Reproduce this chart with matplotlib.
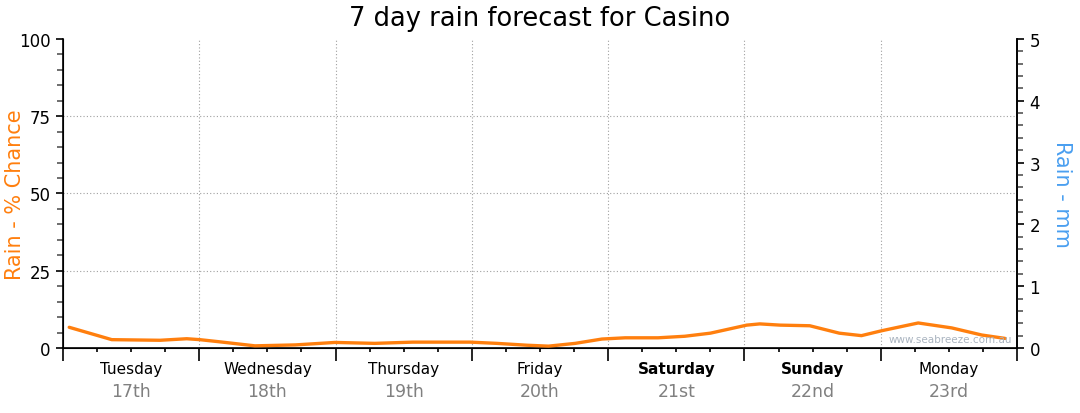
"""7 day rain forecast for Casino - recreated with matplotlib."""

import numpy as np
import matplotlib.pyplot as plt
from matplotlib.ticker import MultipleLocator
from matplotlib.transforms import blended_transform_factory


# hours since Tuesday 00:00 and rain chance (%)
HOURS = [1.1, 8.6, 17.1, 21.8, 24.1, 27.6, 33.8, 40.9, 47.9, 54.9, 61.6,
         71.7, 76.4, 81.7, 85.5, 90.2, 94.9, 99.0, 104.8, 109.5, 114.0,
         120.4, 122.7, 126.3, 131.5, 136.7, 140.6, 144.2, 150.6, 156.5,
         161.8, 165.9]
CHANCE = [6.7, 2.7, 2.5, 3.0, 2.7, 2.0, 0.7, 1.0, 1.8, 1.5, 1.9,
          1.9, 1.5, 0.9, 0.6, 1.5, 2.9, 3.3, 3.3, 3.8, 4.8,
          7.4, 7.8, 7.4, 7.2, 4.8, 4.0, 5.6, 8.1, 6.5,
          4.2, 3.1]

DAYS = ["Tuesday", "Wednesday", "Thursday", "Friday", "Saturday", "Sunday", "Monday"]
DATES = ["17th", "18th", "19th", "20th", "21st", "22nd", "23rd"]
WEEKEND = ["Saturday", "Sunday"]

ORANGE = "#ff7f0e"
BLUE = "#4a9ff0"

plt.rcParams["font.family"] = ["DejaVu Sans"]

fig = plt.figure(figsize=(10.8, 4.14), dpi=100)
ax = fig.add_axes([0.0583, 0.157, 0.8834, 0.7465])

ax.plot(HOURS, CHANCE, color=ORANGE, lw=2.4, solid_capstyle="round", zorder=3)

ax.set_xlim(0, 168)
ax.set_ylim(0, 100)

# grid: dotted, interior only
for y in (25, 50, 75):
    ax.axhline(y, color="#a0a0a0", lw=0.8, ls=(0, (1, 2)), zorder=1)
for d in range(1, 7):
    ax.axvline(d * 24, color="#a0a0a0", lw=0.8, ls=(0, (1, 2)), zorder=1)

ax.spines["top"].set_visible(False)
for s in ("left", "right", "bottom"):
    ax.spines[s].set_linewidth(1.2)

ax.set_yticks([0, 25, 50, 75, 100])
ax.yaxis.set_minor_locator(MultipleLocator(5))
ax.tick_params(axis="y", which="major", length=5, width=1.2, labelsize=12, pad=4)
ax.tick_params(axis="y", which="minor", length=4, width=1.2, color="#555555")

ax.set_xticks(np.arange(0, 169, 24))
ax.xaxis.set_minor_locator(MultipleLocator(6))
ax.tick_params(axis="x", which="major", length=9, width=1.2, labelbottom=False)
ax.tick_params(axis="x", which="minor", length=3, width=1.2)

ax.set_ylabel("Rain - % Chance", color=ORANGE, fontsize=15, va="center")
ax.yaxis.set_label_coords(-0.0503, 0.5)

ax2 = ax.twinx()
ax2.set_ylim(0, 5)
ax2.set_yticks(range(6))
ax2.yaxis.set_minor_locator(MultipleLocator(0.2))
ax2.tick_params(axis="y", which="major", length=5, width=1.2, labelsize=12, pad=4)
ax2.tick_params(axis="y", which="minor", length=4, width=1.2, color="#555555")
ax2.spines["top"].set_visible(False)
ax2.spines["right"].set_linewidth(1.2)
ax2.set_ylabel("Rain - mm", color=BLUE, fontsize=15, rotation=270, va="center")
ax2.yaxis.set_label_coords(1.047, 0.5)

trans = blended_transform_factory(ax.transData, ax.transAxes)
for i, (day, date) in enumerate(zip(DAYS, DATES)):
    xc = i * 24 + 12
    ax.text(xc, -0.065, day, transform=trans, ha="center", va="center",
            fontsize=11, fontweight="bold" if day in WEEKEND else "normal")
    ax.text(xc, -0.14, date, transform=trans, ha="center", va="center",
            fontsize=12.5, color="#808080")

ax.text(0.995, 0.03, "www.seabreeze.com.au", transform=ax.transAxes,
        ha="right", va="center", fontsize=7.5, color="#aab4c0")

fig.suptitle("7 day rain forecast for Casino", fontsize=18.5, y=0.985)

fig.savefig("out.png", dpi=100)
